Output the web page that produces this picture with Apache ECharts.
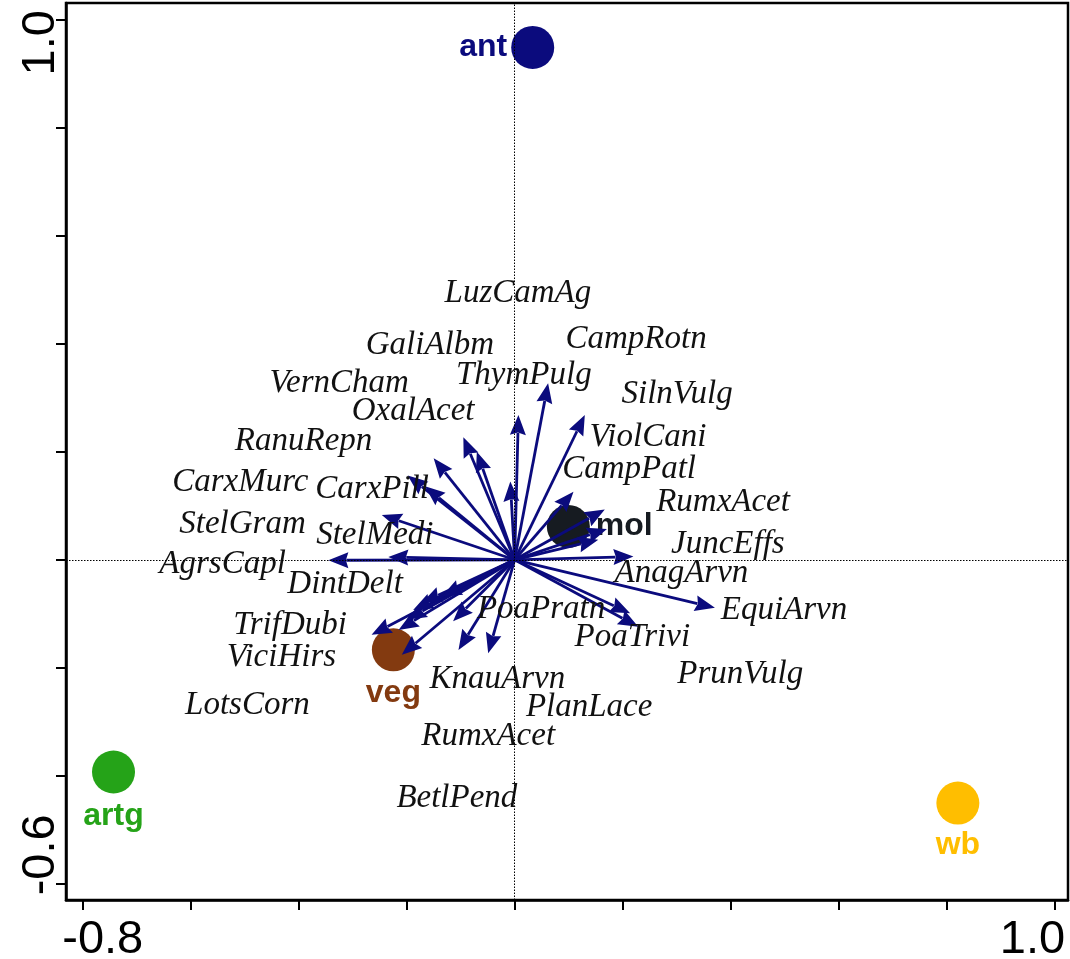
<!DOCTYPE html>
<html>
<head>
<meta charset="utf-8">
<script src="https://cdn.jsdelivr.net/npm/echarts@6/dist/echarts.min.js"></script>
<style>
html,body{margin:0;padding:0;background:#fff;}
#chart{width:1070px;height:959px;}
</style>
</head>
<body>
<div id="chart"></div>
<script>
// ---- data ----
const arrowX = [0.062, 0.007, 0.130, -0.095, -0.070, -0.150, -0.198, -0.166, -0.008, -0.246,
  -0.345, -0.234, 0.109, 0.167, 0.171, 0.155, 0.220, 0.371, 0.214, 0.229,
  -0.265, -0.215, -0.200, -0.188, -0.172, -0.135, -0.209, -0.114, -0.104, -0.049];
const arrowY = [0.327, 0.268, 0.268, 0.227, 0.200, 0.188, 0.156, 0.136, 0.145, 0.083,
  -0.001, 0.005, 0.126, 0.093, 0.057, 0.037, 0.006, -0.089, -0.099, -0.124,
  -0.139, -0.130, -0.111, -0.093, -0.080, -0.068, -0.176, -0.114, -0.167, -0.173];

const speciesLabels = ['LuzCamAg','CampRotn','GaliAlbm','ThymPulg','VernCham','SilnVulg','OxalAcet','ViolCani',
  'RanuRepn','CampPatl','CarxMurc','CarxPill','RumxAcet','StelGram','StelMedi','JuncEffs','AgrsCapl','AnagArvn',
  'DintDelt','EquiArvn','PoaPratn','PoaTrivi','TrifDubi','ViciHirs','PrunVulg','KnauArvn','LotsCorn','PlanLace',
  'RumxAcet','BetlPend'];
const labelX = [0.006, 0.225, -0.157, 0.017, -0.325, 0.301, -0.188, 0.247,
  -0.391, 0.212, -0.508, -0.264, 0.386, -0.504, -0.259, 0.395, -0.541, 0.309,
  -0.314, 0.499, 0.049, 0.218, -0.416, -0.432, 0.418, -0.032, -0.495, 0.138,
  -0.049, -0.107];
const labelY = [0.494, 0.409, 0.398, 0.341, 0.326, 0.306, 0.274, 0.226,
  0.220, 0.167, 0.143, 0.131, 0.107, 0.065, 0.046, 0.028, -0.009, -0.026,
  -0.046, -0.093, -0.091, -0.143, -0.122, -0.180, -0.213, -0.222, -0.270, -0.274,
  -0.326, -0.441];

const groupNames = ['ant', 'mol', 'veg', 'artg', 'wb'];
const groupX = [0.0335, 0.0995, -0.2246, -0.743, 0.821];
const groupY = [0.9487, 0.0617, -0.1667, -0.393, -0.4506];

const xTicks = [-0.8, -0.6, -0.4, -0.2, 0, 0.2, 0.4, 0.6, 0.8, 1.0];
const yTicks = [-0.6, -0.4, -0.2, 0, 0.2, 0.4, 0.6, 0.8, 1.0];
const xTickLabels = [-0.8, 1.0];
const yTickLabels = [-0.6, 1.0];

// ---- styles ----
const groupColors = ['#0b0b7d', '#161b21', '#833a10', '#25a318', '#ffbe00'];
const groupLabelPos = ['left', 'right', 'bottom', 'bottom', 'bottom'];
const groupLabelDist = [4, 6, 6, 7, 5];
const arrowColor = '#0b0b7d';
const tickFont = "'Liberation Sans Narrow', 'Liberation Sans', Arial, sans-serif";

const chart = echarts.init(document.getElementById('chart'), null, {renderer: 'canvas'});

function tickFormatter(v) {
  const s = v.toFixed(1);
  return v < 0.5 ? '{lo|' + s + '}' : '{hi|' + s + '}';
}

const arrowData = arrowX.map((x, i) => [x, arrowY[i]]);
const labelData = speciesLabels.map((n, i) => ({name: n, value: [labelX[i], labelY[i]]}));
const groupData = groupNames.map((n, i) => ({
  name: n,
  value: [groupX[i], groupY[i]],
  itemStyle: {color: groupColors[i], opacity: 1},
  label: {color: groupColors[i], position: groupLabelPos[i], distance: groupLabelDist[i]}
}));

const option = {
  animation: false,
  backgroundColor: '#fff',
  grid: {
    left: 66, right: 2, top: 3, bottom: 59,
    containLabel: false, outerBoundsMode: 'none',
    show: true, borderColor: '#000', borderWidth: 2.5, backgroundColor: 'transparent'
  },
  xAxis: {
    type: 'value', min: -0.831, max: 1.025,
    axisLine: {show: true, onZero: false, lineStyle: {color: '#000', width: 2.5}},
    axisTick: {show: true, customValues: xTicks, length: 10, lineStyle: {color: '#000', width: 2}},
    axisLabel: {
      customValues: xTickLabels, margin: 17, color: '#000',
      formatter: tickFormatter,
      rich: {
        lo: {fontFamily: tickFont, fontSize: 47, color: '#000', padding: [0, 0, 0, 40]},
        hi: {fontFamily: tickFont, fontSize: 47, color: '#000', padding: [0, 44, 0, 0]}
      }
    },
    splitLine: {show: false}
  },
  yAxis: {
    type: 'value', min: -0.63, max: 1.031,
    axisLine: {show: true, onZero: false, lineStyle: {color: '#000', width: 2.5}},
    axisTick: {show: true, customValues: yTicks, length: 10, lineStyle: {color: '#000', width: 2}},
    axisLabel: {
      customValues: yTickLabels, margin: 1, rotate: 90, color: '#000',
      formatter: tickFormatter,
      rich: {
        lo: {fontFamily: tickFont, fontSize: 47, color: '#000', padding: [0, 0, 0, 58]},
        hi: {fontFamily: tickFont, fontSize: 47, color: '#000', padding: [0, 46, 0, 0]}
      }
    },
    splitLine: {show: false}
  },
  series: [
    {
      type: 'line', data: [], z: 1, silent: true,
      markLine: {
        silent: true, symbol: ['none', 'none'], animation: false,
        label: {show: false},
        lineStyle: {color: '#000', width: 1, type: [1.5, 1.5], opacity: 1},
        data: [{xAxis: 0}, {yAxis: 0}]
      }
    },
    {
      type: 'scatter', z: 2, silent: true,
      symbol: 'circle', symbolSize: 43,
      itemStyle: {opacity: 1},
      data: groupData,
      label: {
        show: true, formatter: '{b}', opacity: 1,
        fontFamily: "'Liberation Sans', Arial, sans-serif", fontWeight: 'bold', fontSize: 32
      }
    },
    {
      type: 'custom', z: 3, silent: true,
      data: arrowData,
      encode: {x: 0, y: 1},
      renderItem: function (params, api) {
        const p0 = api.coord([0, 0]);
        const p1 = api.coord([api.value(0), api.value(1)]);
        const dx = p1[0] - p0[0], dy = p1[1] - p0[1];
        const len = Math.sqrt(dx * dx + dy * dy) || 1;
        const ux = dx / len, uy = dy / len;
        const hl = 20, hw = 8;
        const bx = p1[0] - ux * hl, by = p1[1] - uy * hl;
        return {
          type: 'group',
          children: [
            {type: 'line', shape: {x1: p0[0], y1: p0[1], x2: bx + ux * 2, y2: by + uy * 2},
             style: {stroke: arrowColor, lineWidth: 2.8}},
            {type: 'polygon', shape: {points: [
              [p1[0], p1[1]],
              [bx - uy * hw, by + ux * hw],
              [bx + ux * 2.5, by + uy * 2.5],
              [bx + uy * hw, by - ux * hw]
            ]}, style: {fill: arrowColor}}
          ]
        };
      }
    },
    {
      type: 'scatter', z: 4, silent: true,
      symbolSize: 1, itemStyle: {color: 'rgba(0,0,0,0)', opacity: 1},
      data: labelData,
      label: {
        show: true, position: 'inside', formatter: '{b}', opacity: 1,
        fontFamily: "'Liberation Serif', 'Times New Roman', serif", fontStyle: 'italic',
        fontSize: 33, color: '#111'
      }
    }
  ]
};
chart.setOption(option);
</script>
</body>
</html>
